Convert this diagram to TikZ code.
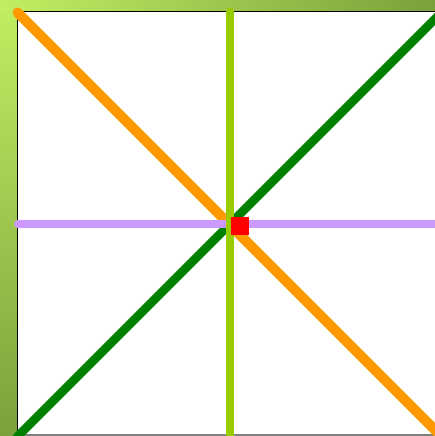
\documentclass[tikz,border=0pt]{standalone}
\definecolor{framelight}{RGB}{194,238,98}
\definecolor{framedark}{RGB}{124,160,60}
\definecolor{diagorange}{RGB}{255,153,0}
\definecolor{diaggreen}{RGB}{0,128,0}
\definecolor{vertgreen}{RGB}{153,204,0}
\definecolor{lavender}{RGB}{204,153,255}
\tikzset{
  axisline/.style={line width=8.6pt},
  diagline/.style={line width=10pt},
}
\begin{document}
\begin{tikzpicture}[x=1pt,y=-1pt]
\useasboundingbox (0,0) rectangle (435,436);
\clip (0,0) rectangle (435,436);
% frame background
\shade[top color=framelight, bottom color=framedark] (0,0) rectangle (18,436);
\shade[left color=framelight, right color=framedark] (0,0) rectangle (435,12);
% white panel
\fill[white] (17,11) rectangle (445,440);
\draw[black, line width=1.4pt] (17.3,440) -- (17.3,11.7) -- (445,11.7);
\draw[gray, line width=1.3pt] (17,434.9) -- (445,434.9);
% coordinates
\coordinate (tl) at (17.5,12.5);
\coordinate (br) at (445,440);
\coordinate (bl) at (16,438);
\coordinate (tr) at (442,12);
\coordinate (vt) at (230,11.7);
\coordinate (vb) at (230,442);
\coordinate (hl) at (18,224);
\coordinate (hr) at (442,224);
% lines
\draw[diagline, diagorange, line cap=round] (tl) -- (br);
\draw[line width=8.6pt, diaggreen] (bl) -- (tr);
\draw[line width=8pt, lavender, line cap=round] (hl) -- (hr);
\draw[axisline, vertgreen, line cap=round] (vt) -- (vb);
% marker
\node[fill=red, minimum size=18pt, inner sep=0pt, outer sep=0pt] (mark) at (240,226) {};
\end{tikzpicture}
\end{document}
